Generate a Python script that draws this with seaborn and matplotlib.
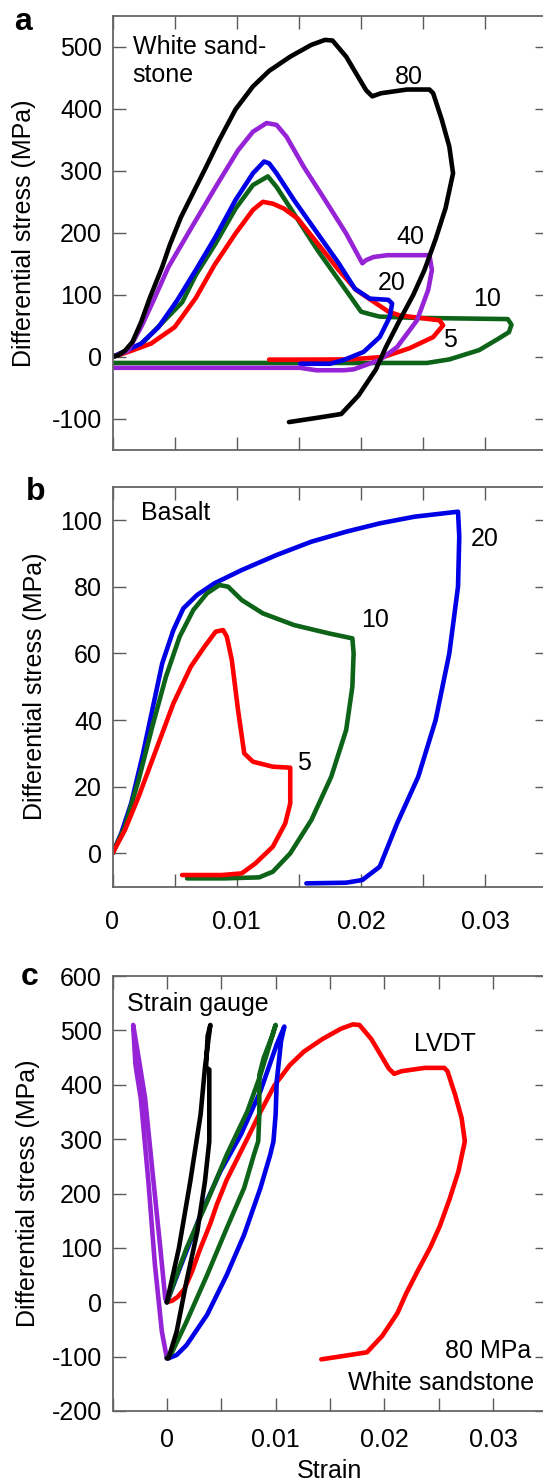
import matplotlib
matplotlib.use("Agg")
import matplotlib.pyplot as plt
import seaborn as sns
from matplotlib.ticker import MultipleLocator, FuncFormatter

sns.set_theme(style="ticks")
plt.rcParams["font.family"] = ["Liberation Sans", "DejaVu Sans"]
plt.rcParams["axes.unicode_minus"] = False
plt.rcParams["text.color"] = "black"
plt.rcParams["axes.labelcolor"] = "black"
plt.rcParams["xtick.labelcolor"] = "black"
plt.rcParams["ytick.labelcolor"] = "black"

# ---------------- (a) White sandstone, confining pressure in MPa ----------------
sand80_strain = [0, 0.0005, 0.001, 0.0016, 0.0023, 0.003, 0.004, 0.0046, 0.0055, 0.0065,
                 0.0075, 0.0086, 0.0099, 0.0113, 0.0126, 0.0143, 0.0160, 0.0171, 0.0177,
                 0.0188, 0.0204, 0.0209, 0.0216, 0.0237, 0.0255, 0.0258, 0.0265, 0.0271,
                 0.0274, 0.0268, 0.0260, 0.0251, 0.0242, 0.0231, 0.0220, 0.0212, 0.0198,
                 0.0184, 0.0165, 0.0142]
sand80_stress = [0, 3, 10, 24, 56, 95, 145, 180, 225, 265, 305, 350, 399, 436, 461, 484,
                 503, 511, 510, 484, 430, 420, 425, 431, 431, 425, 382, 339, 296, 240, 190,
                 140, 100, 59, 16, -20, -62, -92, -98, -105]

sand40_strain = [0, 0.00125, 0.0023, 0.0033, 0.0045, 0.0064, 0.0083, 0.0101, 0.0113, 0.0124,
                 0.0132, 0.0140, 0.0154, 0.0171, 0.0188, 0.0201, 0.0204, 0.0210, 0.0221,
                 0.0255, 0.0257, 0.0254, 0.0245, 0.0229, 0.0215, 0.0194, 0.0186, 0.0164,
                 0.0151, 0.0, -0.002]
sand40_stress = [0, 10, 48, 91, 145, 210, 274, 333, 363, 377, 374, 355, 306, 253, 199, 151,
                 156, 161, 164, 164, 140, 108, 59, 16, -5, -20, -21.5, -21.5, -17.5, -17.5,
                 -17.5]

sand20_strain = [0, 0.0023, 0.0037, 0.0052, 0.0067, 0.0083, 0.0099, 0.0113, 0.0122, 0.0126,
                 0.0132, 0.0146, 0.0165, 0.0182, 0.0195, 0.0207, 0.0222, 0.0225, 0.0223,
                 0.0215, 0.0202, 0.0186, 0.0175, 0.0151]
sand20_stress = [0, 21.5, 48, 91, 140, 194, 253, 296, 315, 312, 296, 253, 199, 151, 110, 94,
                 92, 86, 64, 32, 8, -5, -11, -11]

sand10_strain = [0, 0.0023, 0.0056, 0.0067, 0.0083, 0.0099, 0.0113, 0.0125, 0.0132, 0.0146,
                 0.0165, 0.0182, 0.0200, 0.0207, 0.0215, 0.0243, 0.0318, 0.0321, 0.0319,
                 0.0311, 0.0295, 0.0271, 0.0253, 0.0, -0.002]
sand10_stress = [0, 20, 88, 132, 183, 239, 277, 291, 274, 231, 172, 124, 73, 69, 65, 63, 61,
                 52, 40, 30, 11, -4, -9.7, -9.7, -9.7]

sand5_strain = [0, 0.00125, 0.0031, 0.005, 0.0067, 0.0082, 0.0099, 0.0113, 0.0121, 0.0129,
                0.0138, 0.0149, 0.0165, 0.0182, 0.0196, 0.0222, 0.0231, 0.0263, 0.0266,
                0.0258, 0.0239, 0.0218, 0.0191, 0.0151, 0.0126]
sand5_stress = [0, 8, 21.5, 48, 95, 148, 199, 237, 250, 247, 239, 223, 183, 140, 108, 73, 67,
                59, 51, 32, 14, 0, -4, -4.3, -4.3]

# ---------------- (b) Basalt ----------------
basalt20_strain = [0, 0.0007, 0.0015, 0.0024, 0.0032, 0.004, 0.0049, 0.0057, 0.0068, 0.0082,
                   0.0104, 0.0132, 0.0160, 0.0188, 0.0215, 0.0243, 0.0278, 0.0279, 0.0278,
                   0.0271, 0.0260, 0.0246, 0.0229, 0.0215, 0.0201, 0.0188, 0.0156]
basalt20_stress = [0, 6, 15, 29, 43, 57, 67, 73.5, 77.5, 81, 85, 89.5, 93.5, 96.5, 99, 101,
                   102.5, 95, 80, 60, 40, 23, 9, -4, -8, -8.8, -9]

basalt10_strain = [0, 0.001, 0.0021, 0.0032, 0.0043, 0.0054, 0.0065, 0.0076, 0.0086, 0.0093,
                   0.0104, 0.0121, 0.0146, 0.0174, 0.0193, 0.0194, 0.0193, 0.0188, 0.0176,
                   0.0160, 0.0143, 0.0129, 0.0118, 0.0090, 0.0060]
basalt10_stress = [0, 8, 22, 38, 53, 65, 73, 78, 80.5, 80, 76, 72, 68.5, 66, 64.5, 60, 50, 37,
                   23, 10, 0, -5.5, -7.2, -7.5, -7.5]

basalt5_strain = [0, 0.001, 0.0021, 0.0035, 0.0049, 0.0063, 0.0074, 0.0083, 0.0089, 0.0092,
                  0.0096, 0.0101, 0.0106, 0.0113, 0.0129, 0.0143, 0.0143, 0.0139, 0.0129,
                  0.0115, 0.0104, 0.0088, 0.0056]
basalt5_stress = [0, 7, 17, 31, 45, 56, 62, 66.5, 67, 65, 58, 43, 30, 27.5, 26, 25.7, 15, 9,
                  2, -3, -6, -6.5, -6.5]

# ---------------- (c) 80 MPa white sandstone: strain gauges vs LVDT ----------------
gauge_purple_strain = [0, -0.00015, -0.0006, -0.00123, -0.0020, -0.0026, -0.0031, -0.0029,
                       -0.0028, -0.0024, -0.0017, -0.0011, -0.00046, 0]
gauge_purple_stress = [0, 7, 99, 222, 375, 450, 510, 440, 425, 375, 222, 69, -54, -103]

gauge_black_strain = [0, 0.0011, 0.00215, 0.0031, 0.0035, 0.0038, 0.0040, 0.00375, 0.0036,
                      0.0039, 0.0039, 0.0035, 0.0028, 0.0018, 0.0009, 0.00015, 0]
gauge_black_stress = [0, 99, 222, 345, 431, 480, 510, 490, 432, 428, 296, 222, 130, 38, -54,
                      -103, -103]

gauge_green_strain = [0, 0.0009, 0.0018, 0.0037, 0.0055, 0.0074, 0.0086, 0.0100, 0.0097,
                      0.0089, 0.0085, 0.0085, 0.0084, 0.0080, 0.0071, 0.0055, 0.0037, 0.0018,
                      0.0005, 0]
gauge_green_stress = [0, 50, 99, 185, 271, 351, 418, 510, 491, 449, 418, 345, 296, 271, 210,
                      136, 50, -36, -91, -103]

gauge_blue_strain = [0, 0.0012, 0.0031, 0.0049, 0.0068, 0.0086, 0.0101, 0.0108, 0.0105,
                     0.0101, 0.0100, 0.0098, 0.0095, 0.0086, 0.0071, 0.0055, 0.0037, 0.0018,
                     0.0009, 0.00015, 0]
gauge_blue_stress = [0, 63, 161, 240, 308, 388, 474, 507, 480, 406, 345, 296, 271, 210, 124,
                     50, -23, -79, -97, -103, -103]

RED, GREEN, BLUE, PURPLE, BLACK = "#ff0000", "#0d6419", "#0000e6", "#9624d6", "#000000"
LW = 3.3
FS = 18

W, H = 543, 1481
fig = plt.figure(figsize=(W / 100, H / 100), dpi=100)


def panel(left, top, right, bottom):
    return fig.add_axes([left / W, 1 - bottom / H, (right - left) / W, (bottom - top) / H])


ax_a = panel(112.5, 15.7, 547.5, 450)
ax_b = panel(112.5, 486.7, 547.5, 886.7)
ax_c = panel(112.5, 976, 547.5, 1411)


def trace(ax, xs, ys, color):
    sns.lineplot(x=xs, y=ys, sort=False, estimator=None, color=color, lw=LW, ax=ax,
                 solid_joinstyle="round", solid_capstyle="round")


def strain_fmt(v, _):
    k = v / 0.01
    if abs(k - round(k)) > 1e-6:
        return ""
    return "0" if abs(v) < 1e-12 else f"{v:.2f}"


def style(ax, xlim, ylim, ystep, show_x, xpad, ylab_x):
    ax.set_xlim(*xlim)
    ax.set_ylim(*ylim)
    ax.xaxis.set_major_locator(MultipleLocator(0.005))
    ax.yaxis.set_major_locator(MultipleLocator(ystep))
    ax.xaxis.set_major_formatter(FuncFormatter(strain_fmt))
    ax.tick_params(direction="in", length=9.4, width=1.0, color="#5a5a5a",
                   top=True, right=True, labelsize=FS, labelcolor="black")
    ax.tick_params(axis="y", pad=7.5)
    ax.tick_params(axis="x", pad=xpad, labelbottom=show_x)
    for s in ax.spines.values():
        s.set_color("#666666")
        s.set_linewidth(1.3)
    ax.set_xlabel("")
    ax.set_ylabel("Differential stress (MPa)", fontsize=FS, color="black")
    ax.yaxis.set_label_coords(ylab_x, 0.5)
    ax.yaxis.label.set_va("center")


# panel a
for xs, ys, c in [(sand10_strain, sand10_stress, GREEN),
                  (sand5_strain, sand5_stress, RED),
                  (sand20_strain, sand20_stress, BLUE),
                  (sand40_strain, sand40_stress, PURPLE),
                  (sand80_strain, sand80_stress, BLACK)]:
    trace(ax_a, xs, ys, c)
style(ax_a, (0, 0.035), (-150, 550), 100, False, 16, -0.204)
ax_a.text(0.00162, 489, "White sand-", fontsize=FS, va="baseline", ha="left")
ax_a.text(0.00162, 443, "stone", fontsize=FS, va="baseline", ha="left")
for lab, x, y in [("80", 0.02387, 451), ("40", 0.02397, 193), ("20", 0.02247, 119),
                  ("10", 0.0301, 93), ("5", 0.02716, 27)]:
    ax_a.text(x, y, lab, fontsize=FS, ha="center", va="center")

# panel b
for xs, ys, c in [(basalt20_strain, basalt20_stress, BLUE),
                  (basalt10_strain, basalt10_stress, GREEN),
                  (basalt5_strain, basalt5_stress, RED)]:
    trace(ax_b, xs, ys, c)
style(ax_b, (0, 0.035), (-10, 110), 20, True, 17, -0.1775)
ax_b.text(0.00228, 102, "Basalt", fontsize=FS, ha="left", va="center")
for lab, x, y in [("20", 0.02992, 94.4), ("10", 0.0211, 70), ("5", 0.01538, 27.2)]:
    ax_b.text(x, y, lab, fontsize=FS, ha="center", va="center")

# panel c
trace(ax_c, sand80_strain, sand80_stress, RED)
for xs, ys, c in [(gauge_purple_strain, gauge_purple_stress, PURPLE),
                  (gauge_blue_strain, gauge_blue_stress, BLUE),
                  (gauge_green_strain, gauge_green_stress, GREEN),
                  (gauge_black_strain, gauge_black_stress, BLACK)]:
    trace(ax_c, xs, ys, c)
style(ax_c, (-0.005, 0.035), (-200, 600), 100, True, 12, -0.1938)
ax_c.set_xlabel("Strain", fontsize=FS, color="black")
ax_c.xaxis.set_label_coords(0.5, -0.154)
ax_c.xaxis.label.set_va("baseline")
ax_c.text(-0.00366, 548, "Strain gauge", fontsize=FS, ha="left", va="center")
ax_c.text(0.02558, 474.7, "LVDT", fontsize=FS, ha="center", va="center")
ax_c.text(0.0335, -90.5, "80 MPa", fontsize=FS, ha="right", va="center")
ax_c.text(0.03375, -149, "White sandstone", fontsize=FS, ha="right", va="center")

# panel letters
for lab, px, py in [("a", 14, 30), ("b", 26, 500), ("c", 21, 985)]:
    fig.text(px / W, 1 - py / H, lab, fontsize=23, fontweight="bold", ha="left",
             va="baseline", color="black")

fig.savefig("out.png", dpi=100)
